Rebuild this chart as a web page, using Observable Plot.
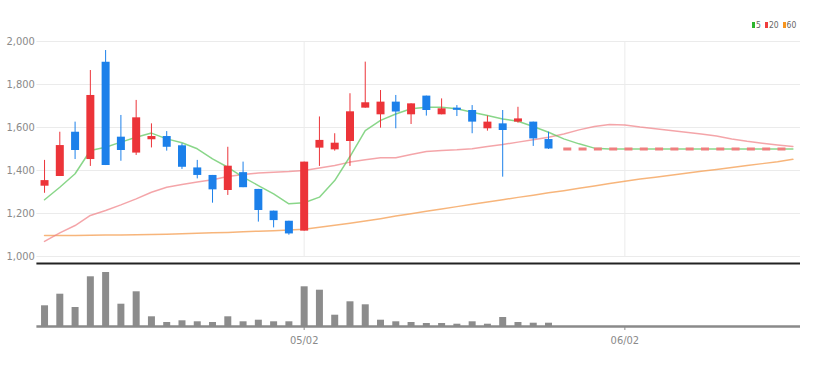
<!DOCTYPE html>
<html>
<head>
<meta charset="utf-8">
<script src="https://cdn.jsdelivr.net/npm/d3@7"></script>
<script src="https://cdn.jsdelivr.net/npm/@observablehq/plot@0.6"></script>
<style>
  body { margin: 0; background: #fff; }
  #wrap { position: relative; width: 818px; height: 366px; font-family: "Liberation Sans Narrow", "DejaVu Sans Condensed", sans-serif; }
  #price, #vol { position: absolute; left: 0; }
  #price { top: 0; }
  #vol { top: 258px; }
  #legend { position: absolute; top: 20px; left: 752px; font-size: 8.5px; color: #666; display: flex; align-items: center; line-height: 10px; }
  #legend span.sw { display: inline-block; width: 3px; height: 6px; margin-right: 1px; }
  #legend span.lb { margin-right: 4px; }
</style>
</head>
<body>
<div id="wrap">
  <div id="price"></div>
  <div id="vol"></div>
  <div id="legend"></div>
</div>
<script>
// ---- data ----
const dates = ["04/06","04/07","04/10","04/11","04/12","04/13","04/14","04/17","04/18","04/19",
  "04/20","04/21","04/24","04/25","04/26","04/27","04/28","05/02","05/03","05/04",
  "05/08","05/09","05/10","05/11","05/12","05/15","05/16","05/17","05/18","05/19",
  "05/22","05/23","05/24","05/25","05/26","05/30","05/31","06/01","06/02","06/05",
  "06/07","06/08","06/09","06/12","06/13","06/14","06/15","06/16","06/19","06/20"];

const opens  = [1327,1372,1578,1451,1904,1555,1481,1543,1558,1515,1412,1377,1307,1390,1312,1211,1164,1118,1504,1496,1535,1690,1659,1718,1659,1746,1659,1690,1679,1594,1617,1625,1625,1544];
const highs  = [1447,1578,1625,1865,1958,1656,1726,1617,1581,1524,1447,1377,1508,1439,1312,1211,1164,1439,1649,1571,1757,1904,1772,1749,1710,1746,1733,1702,1702,1653,1679,1694,1625,1578];
const lows   = [1294,1372,1451,1419,1423,1443,1470,1505,1490,1405,1361,1248,1284,1320,1160,1133,1099,1118,1419,1490,1419,1690,1597,1594,1614,1653,1659,1651,1571,1583,1369,1620,1512,1498];
const closes = [1353,1516,1493,1749,1423,1493,1645,1558,1508,1415,1377,1310,1420,1320,1214,1167,1105,1439,1540,1527,1673,1715,1718,1672,1710,1679,1687,1680,1625,1625,1586,1640,1547,1500];
const volumes = [207,323,190,497,540,223,347,97,40,57,47,40,97,47,63,47,47,397,363,113,247,217,63,47,40,30,30,23,47,23,90,40,33,33];

const ma5  = [1264,1322,1385,1493,1508,1532,1555,1574,1547,1529,1501,1454,1415,1369,1330,1291,1245,1250,1276,1353,1465,1586,1633,1663,1687,1694,1694,1687,1671,1656,1640,1629,1605,1578,1547,1524,1504,1500,1500,1500,1500,1500,1500,1500,1500,1500,1500,1500,1500,1500];
const ma20 = [1070,1110,1144,1191,1214,1240,1268,1299,1322,1335,1346,1357,1372,1381,1388,1392,1395,1400,1412,1423,1439,1450,1459,1459,1474,1488,1493,1496,1501,1512,1521,1532,1543,1555,1570,1589,1605,1614,1612,1602,1594,1586,1578,1570,1560,1547,1536,1527,1519,1512];
const ma60 = [1098,1098,1098,1099,1100,1100,1101,1102,1104,1106,1108,1110,1112,1115,1118,1120,1123,1127,1136,1145,1155,1165,1176,1188,1199,1210,1221,1232,1243,1254,1264,1275,1285,1296,1306,1317,1328,1339,1350,1360,1369,1378,1387,1396,1405,1414,1423,1432,1441,1452];

const yTicks = [1000,1200,1400,1600,1800,2000];
const xTickLabels = ["05/02","06/02"];
const legendLabels = ["5","20","60"];
const legendColors = ["#2db52d","#ef3d3d","#f7941d"];

// ---- build ----
const RED = "#ec3439", BLUE = "#1c80ea";
const candles = opens.map((o, i) => ({i, o, h: highs[i], l: lows[i], c: closes[i]}));
const up = candles.filter(d => d.c >= d.o);
const down = candles.filter(d => d.c < d.o);
const line = arr => arr.map((v, i) => ({i, v}));
const xDomain = [-0.5, dates.length - 0.5];
const tickIdx = xTickLabels.map(t => dates.indexOf(t));
const lastIdx = closes.length - 1;
const lastClose = closes[lastIdx];
const common = {width: 818, marginLeft: 36.4, marginRight: 18};
const font = {fontFamily: '"Liberation Sans Narrow","DejaVu Sans Condensed",sans-serif', fontSize: "11px", color: "#8a8a8a", background: "transparent", overflow: "visible"};

const price = Plot.plot({
  ...common,
  height: 258, marginTop: 41, marginBottom: 2,
  style: font,
  x: {type: "linear", domain: xDomain, axis: null},
  y: {domain: [1000, 2000], ticks: yTicks, tickFormat: d3.format(","), tickSize: 0, tickPadding: 2, label: null},
  marks: [
    Plot.ruleY(yTicks, {stroke: "#ebebeb", strokeWidth: 1}),
    Plot.ruleX(tickIdx, {stroke: "#ebebeb", strokeWidth: 1}),
    Plot.line(line(ma60), {x: "i", y: "v", stroke: "#f5a25a", strokeOpacity: 0.8, strokeWidth: 1.5}),
    Plot.line(line(ma20), {x: "i", y: "v", stroke: "#f07f84", strokeOpacity: 0.7, strokeWidth: 1.5}),
    Plot.line(line(ma5), {x: "i", y: "v", stroke: "#62c862", strokeOpacity: 0.75, strokeWidth: 1.5}),
    Plot.ruleY([lastClose], {x1: lastIdx + 1, x2: dates.length - 1, stroke: "#ef7f7f", strokeWidth: 3, strokeDasharray: "8,7.3"}),
    Plot.ruleX(up, {x: "i", y1: "l", y2: "h", stroke: RED, strokeWidth: 1}),
    Plot.ruleX(down, {x: "i", y1: "l", y2: "h", stroke: BLUE, strokeWidth: 1}),
    Plot.ruleX(up, {x: "i", y1: "o", y2: "c", stroke: RED, strokeWidth: 8}),
    Plot.ruleX(down, {x: "i", y1: "o", y2: "c", stroke: BLUE, strokeWidth: 8})
  ]
});
document.getElementById("price").appendChild(price);

const volMax = 630;
const vol = Plot.plot({
  ...common,
  height: 108, marginTop: 5, marginBottom: 40,
  style: font,
  x: {type: "linear", domain: xDomain, ticks: tickIdx, tickFormat: i => dates[i], tickSize: 4, tickPadding: 6, label: null},
  y: {domain: [0, volMax], axis: null},
  marks: [
    Plot.ruleX(line(volumes), {x: "i", y1: 0, y2: "v", stroke: "#8c8c8c", strokeWidth: 7}),
    Plot.ruleY([0], {stroke: "#8a8a8a", strokeWidth: 2.5}),
    Plot.ruleY([volMax], {stroke: "#222", strokeWidth: 2})
  ]
});
document.getElementById("vol").appendChild(vol);

const lg = document.getElementById("legend");
legendLabels.forEach((t, k) => {
  const s = document.createElement("span"); s.className = "sw"; s.style.background = legendColors[k];
  const l = document.createElement("span"); l.className = "lb"; l.textContent = t;
  lg.appendChild(s); lg.appendChild(l);
});
</script>
</body>
</html>
